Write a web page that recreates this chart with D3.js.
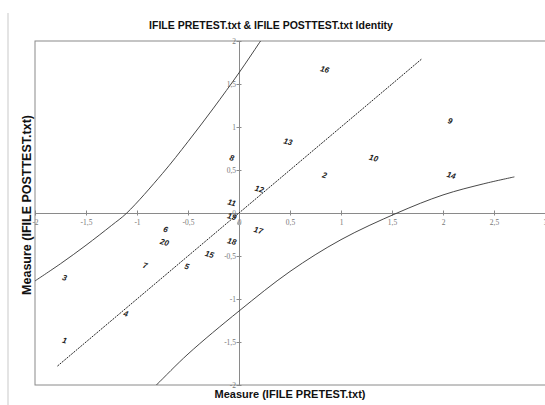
<!DOCTYPE html>
<html>
<head>
<meta charset="UTF-8">
<script src="https://d3js.org/d3.v7.min.js"></script>
<style>
  body { margin: 0; background: #fff; }
  svg { display: block; }
</style>
</head>
<body>
<svg id="chart" width="545" height="405"></svg>
<script>
// point labels (person numbers) with pretest / posttest measures
const labels = ["1","2","3","4","5","6","7","8","9","10","11","12","13","14","15","16","17","18","19","20"];
const pretest = [-1.71, 0.84, -1.71, -1.11, -0.51, -0.72, -0.92, -0.07, 2.07, 1.32, -0.07, 0.20, 0.48, 2.08, -0.29, 0.84, 0.19, -0.07, -0.07, -0.73];
const posttest = [-1.48, 0.44, -0.75, -1.17, -0.62, -0.19, -0.61, 0.64, 1.07, 0.64, 0.12, 0.28, 0.83, 0.44, -0.48, 1.67, -0.20, -0.33, -0.04, -0.34];

// identity line end points
const identity = [[-1.78, -1.78], [1.79, 1.79]];

// confidence band curves
const upperBand = [[-2.0, -0.79], [-1.75, -0.59], [-1.5, -0.375], [-1.25, -0.145], [-1.1, 0.0], [-0.75, 0.46], [-0.5, 0.83], [-0.25, 1.22], [0.0, 1.63], [0.2, 1.98], [0.3, 2.16]];
const lowerBand = [[-0.95, -2.16], [-0.81, -2.0], [-0.5, -1.64], [0.0, -1.14], [0.5, -0.68], [1.0, -0.31], [1.55, 0.0], [2.0, 0.21], [2.4, 0.34], [2.7, 0.42]];

const xTicks = [-2, -1.5, -1, -0.5, 0, 0.5, 1, 1.5, 2, 2.5, 3];
const yTicks = [-2, -1.5, -1, -0.5, 0, 0.5, 1, 1.5, 2];

const svg = d3.select("#chart");
const x = d3.scaleLinear().domain([-2, 3]).range([35, 545]);
const y = d3.scaleLinear().domain([-2, 2]).range([385, 41]);
const fmt = d => String(d).replace(".", ",");

// faint page edge on the left
svg.append("line")
  .attr("x1", 8).attr("x2", 8).attr("y1", 13).attr("y2", 405)
  .attr("stroke", "#e4e4e4").attr("stroke-width", 2);

// title
svg.append("text")
  .attr("x", 271).attr("y", 29)
  .attr("text-anchor", "middle")
  .style("font", "bold 10.5px 'Liberation Sans', Arial, sans-serif")
  .attr("fill", "#111")
  .text("IFILE PRETEST.txt & IFILE POSTTEST.txt Identity");

// plot frame
svg.append("rect")
  .attr("x", x(-2)).attr("y", y(2))
  .attr("width", x(3) - x(-2) + 2).attr("height", y(-2) - y(2))
  .attr("fill", "none").attr("stroke", "#8a8a8a").attr("stroke-width", 1);

// axes through zero
const xAxis = svg.append("g")
  .attr("transform", `translate(0,${y(0)})`)
  .call(d3.axisBottom(x).tickValues(xTicks).tickFormat(fmt).tickSize(3).tickSizeOuter(0));
xAxis.selectAll(".tick line").attr("y1", -2.5).attr("y2", 2.5);
xAxis.selectAll(".tick text").attr("y", 7);

const yAxis = svg.append("g")
  .attr("transform", `translate(${x(0)},0)`)
  .call(d3.axisLeft(y).tickValues(yTicks).tickFormat(fmt).tickSize(3).tickSizeOuter(0));
yAxis.selectAll(".tick line").attr("x1", -2.5).attr("x2", 2.5);
yAxis.selectAll(".tick text").attr("x", -3);

[xAxis, yAxis].forEach(a => {
  a.select(".domain").attr("stroke", "#8a8a8a");
  a.selectAll(".tick line").attr("stroke", "#8a8a8a");
  a.selectAll(".tick text")
    .attr("fill", "#777")
    .style("font", "7.5px 'Liberation Serif', 'DejaVu Serif', serif");
});

// clip to plot area
svg.append("clipPath").attr("id", "plot")
  .append("rect")
  .attr("x", x(-2)).attr("y", y(2))
  .attr("width", x(3) - x(-2)).attr("height", y(-2) - y(2));

const line = d3.line().x(d => x(d[0])).y(d => y(d[1])).curve(d3.curveCatmullRom);
const g = svg.append("g").attr("clip-path", "url(#plot)");

g.append("path").datum(upperBand).attr("d", line)
  .attr("fill", "none").attr("stroke", "#333").attr("stroke-width", 0.9);
g.append("path").datum(lowerBand).attr("d", line)
  .attr("fill", "none").attr("stroke", "#333").attr("stroke-width", 0.9);

g.append("path").datum(identity).attr("d", d3.line().x(d => x(d[0])).y(d => y(d[1])))
  .attr("fill", "none").attr("stroke", "#222").attr("stroke-width", 1)
  .attr("stroke-dasharray", "2,1");

// small marker below the origin
g.append("circle")
  .attr("cx", x(0)).attr("cy", y(-0.12)).attr("r", 2)
  .attr("fill", "#aaa");

// point labels
g.selectAll(".pt")
  .data(labels)
  .enter().append("text")
  .attr("class", "pt")
  .attr("transform", (d, i) => `translate(${x(pretest[i])},${y(posttest[i])}) rotate(15)`)
  .attr("text-anchor", "middle")
  .attr("dy", "0.35em")
  .style("font", "italic bold 8px 'Liberation Sans', Arial, sans-serif")
  .attr("fill", "#222")
  .text(d => d);

// axis titles
svg.append("text")
  .attr("x", 290).attr("y", 398)
  .attr("text-anchor", "middle")
  .style("font", "bold 11px 'Liberation Sans', Arial, sans-serif")
  .attr("fill", "#111")
  .text("Measure (IFILE PRETEST.txt)");

svg.append("text")
  .attr("transform", "translate(31,205) rotate(-90)")
  .attr("text-anchor", "middle")
  .style("font", "bold 12.5px 'Liberation Sans', Arial, sans-serif")
  .attr("fill", "#111")
  .text("Measure (IFILE POSTTEST.txt)");
</script>
</body>
</html>
